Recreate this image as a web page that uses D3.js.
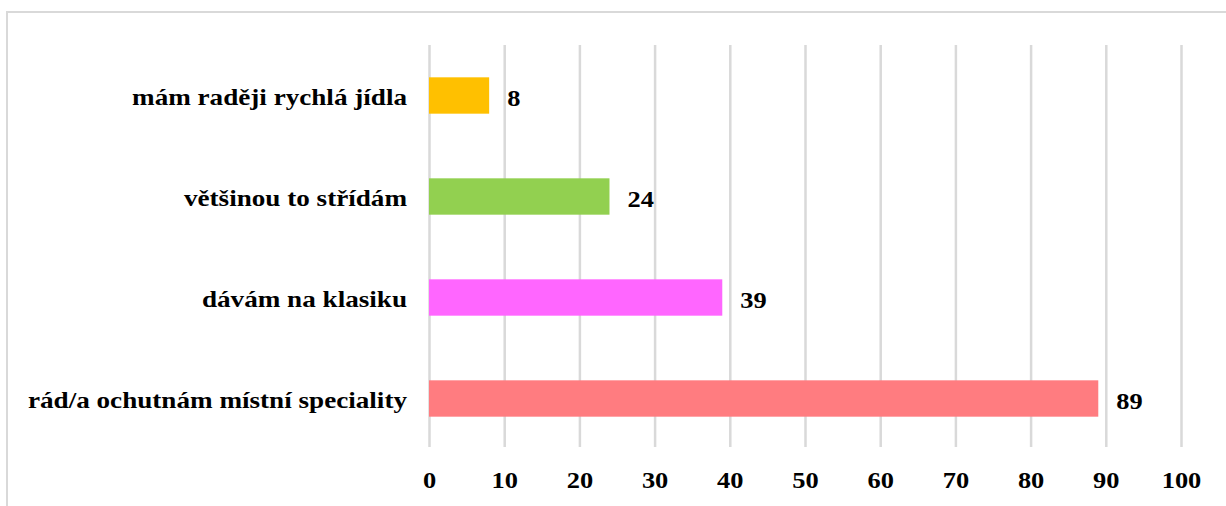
<!DOCTYPE html>
<html>
<head>
<meta charset="utf-8">
<script src="https://cdn.jsdelivr.net/npm/d3@7"></script>
<style>
  body { margin: 0; background: #fff; }
  text { font-family: "Liberation Serif", "Times New Roman", serif; font-weight: bold; fill: #000; }
</style>
</head>
<body>
<svg width="1226" height="506"></svg>
<script>
const categories = ['mám raději rychlá jídla', 'většinou to střídám', 'dávám na klasiku', 'rád/a ochutnám místní speciality'];
const values = [8, 24, 39, 89];
const colors = ['#FFC000', '#92D050', '#FF66FF', '#FF7C80'];
const ticks = [0, 10, 20, 30, 40, 50, 60, 70, 80, 90, 100];

const svg = d3.select('svg');
const width = 1226;
const height = 506;
const stretch = 1.15; // the reference text is a bit wide

// chart frame (cropped at the right and bottom)
svg.append('path')
  .attr('d', `M7,${height + 5} L7,12 L${width + 5},12`)
  .attr('fill', 'none')
  .attr('stroke', '#d9d9d9')
  .attr('stroke-width', 2);

const margin = { top: 45, left: 429 };

const xScale = d3.scaleLinear().domain([0, 100]).range([0, 752]);
const yScale = d3.scaleBand()
  .domain(categories)
  .range([0, 404])
  .paddingInner(0.64)
  .paddingOuter(0.32);

const g = svg.append('g').attr('transform', `translate(${margin.left}, ${margin.top})`);

const xAxis = d3.axisBottom(xScale)
  .tickValues(ticks)
  .tickSize(402)
  .tickPadding(25);

const xg = g.append('g').call(xAxis);
xg.select('.domain').remove();
xg.selectAll('.tick line').attr('stroke', '#d9d9d9').attr('stroke-width', 2.5);
xg.selectAll('.tick text')
  .attr('font-family', '"Liberation Serif", serif')
  .attr('font-weight', 'bold')
  .attr('font-size', 23)
  .attr('fill', '#000')
  .attr('transform', `scale(${stretch},1)`)
  .attr('x', 0);

g.selectAll('rect.bar')
  .data(values)
  .enter()
  .append('rect')
  .attr('class', 'bar')
  .attr('x', 0)
  .attr('y', (d, i) => yScale(categories[i]))
  .attr('width', (d) => xScale(d))
  .attr('height', yScale.bandwidth())
  .attr('fill', (d, i) => colors[i]);

g.selectAll('text.value')
  .data(values)
  .enter()
  .append('text')
  .attr('class', 'value')
  .attr('transform', (d, i) =>
    `translate(${xScale(d) + 18}, ${yScale(categories[i]) + yScale.bandwidth() / 2 + 10}) scale(${stretch},1)`)
  .attr('font-size', 23)
  .text((d) => d);

g.selectAll('text.cat')
  .data(categories)
  .enter()
  .append('text')
  .attr('class', 'cat')
  .attr('transform', (d) =>
    `translate(-22, ${yScale(d) + yScale.bandwidth() / 2 + 9}) scale(${stretch + 0.03},1)`)
  .attr('text-anchor', 'end')
  .attr('font-size', 23)
  .text((d) => d);
</script>
</body>
</html>
